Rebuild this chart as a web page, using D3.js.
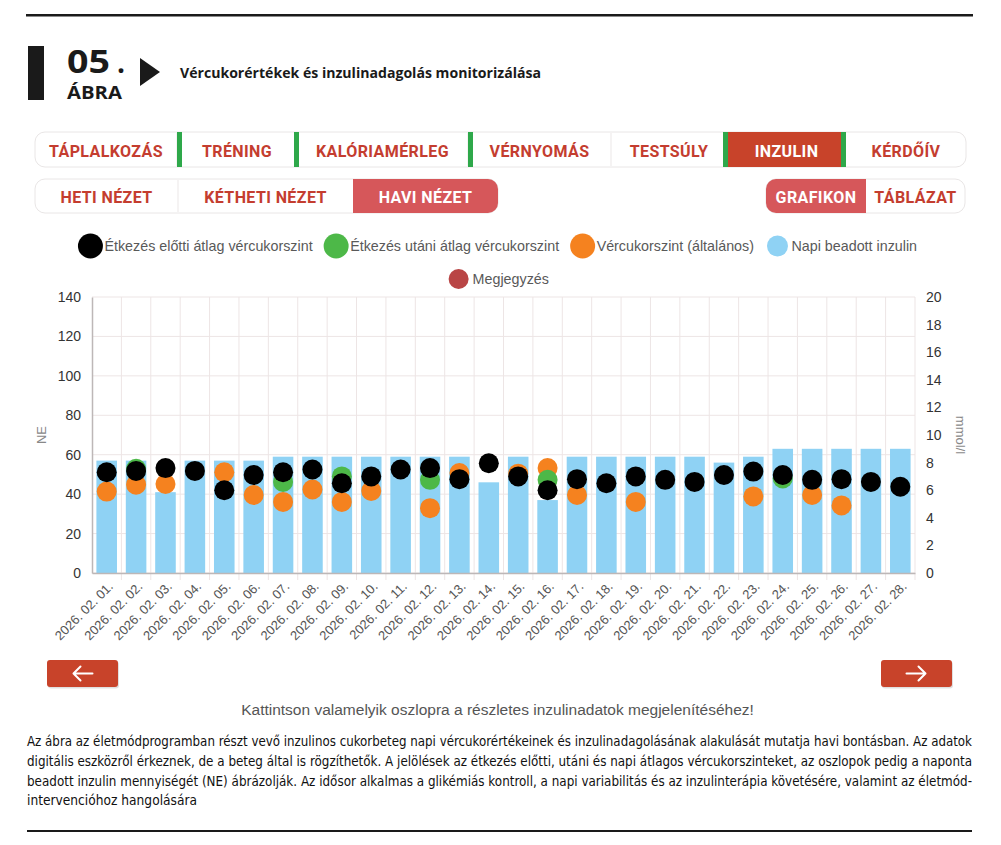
<!DOCTYPE html>
<html>
<head>
<meta charset="utf-8">
<script src="https://cdn.jsdelivr.net/npm/d3@7"></script>
<style>
  body { margin: 0; background: #fff; }
  svg { display: block; }
</style>
</head>
<body>
<div id="chart"></div>
<script>
// ---- data ----
var days = ["2026. 02. 01.", "2026. 02. 02.", "2026. 02. 03.", "2026. 02. 04.", "2026. 02. 05.",
    "2026. 02. 06.", "2026. 02. 07.", "2026. 02. 08.", "2026. 02. 09.", "2026. 02. 10.",
    "2026. 02. 11.", "2026. 02. 12.", "2026. 02. 13.", "2026. 02. 14.", "2026. 02. 15.",
    "2026. 02. 16.", "2026. 02. 17.", "2026. 02. 18.", "2026. 02. 19.", "2026. 02. 20.",
    "2026. 02. 21.", "2026. 02. 22.", "2026. 02. 23.", "2026. 02. 24.", "2026. 02. 25.",
    "2026. 02. 26.", "2026. 02. 27.", "2026. 02. 28."];

// daily insulin (NE), left axis
var insulin = [57, 57, 41, 57, 57, 57, 59, 59, 59, 59, 59, 59, 59, 46, 59,
    37, 59, 59, 59, 59, 59, 56, 59, 63, 63, 63, 63, 63];

// blood sugar (mmol/l), right axis
var preMeal = [7.3, 7.4, 7.6, 7.4, 6.0, 7.1, 7.3, 7.5, 6.5, 7.0, 7.5, 7.6, 6.8, 7.95, 7.0,
    6.0, 6.8, 6.5, 7.0, 6.75, 6.6, 7.1, 7.35, 7.1, 6.75, 6.8, 6.6, 6.25];
var postMeal = [null, 7.55, null, null, null, null, 6.6, null, 7.0, null, null, 6.75, null, null, null,
    6.75, null, null, null, null, null, null, null, 6.85, null, null, null, null];
var general = [5.9, 6.4, 6.45, null, 7.3, 5.65, 5.15, 6.05, 5.15, 5.95, null, 4.7, 7.25, null, 7.2,
    7.6, 5.65, null, 5.15, null, null, null, 5.55, null, 5.65, 4.9, null, null];

var leftTicks = [0, 20, 40, 60, 80, 100, 120, 140];
var rightTicks = [0, 2, 4, 6, 8, 10, 12, 14, 16, 18, 20];

var mainTabs = ["TÁPLALKOZÁS", "TRÉNING", "KALÓRIAMÉRLEG", "VÉRNYOMÁS", "TESTSÚLY", "INZULIN", "KÉRDŐÍV"];
var viewTabs = ["HETI NÉZET", "KÉTHETI NÉZET", "HAVI NÉZET"];
var modeTabs = ["GRAFIKON", "TÁBLÁZAT"];

var legendRow1 = [
    { label: "Étkezés előtti átlag vércukorszint", color: "#000000", r: 12.5 },
    { label: "Étkezés utáni átlag vércukorszint", color: "#4db848", r: 12.5 },
    { label: "Vércukorszint (általános)", color: "#f5821f", r: 12.5 },
    { label: "Napi beadott inzulin", color: "#8fd2f4", r: 10.5 }
];
var legendRow2 = [
    { label: "Megjegyzés", color: "#b94545", r: 10 }
];

var captionLines = [
    "Az ábra az életmódprogramban részt vevő inzulinos cukorbeteg napi vércukorértékeinek és inzulinadagolásának alakulását mutatja havi bontásban. Az adatok",
    "digitális eszközről érkeznek, de a beteg által is rögzíthetők. A jelölések az étkezés előtti, utáni és napi átlagos vércukorszinteket, az oszlopok pedig a naponta",
    "beadott inzulin mennyiségét (NE) ábrázolják. Az idősor alkalmas a glikémiás kontroll, a napi variabilitás és az inzulinterápia követésére, valamint az életmód-",
    "intervencióhoz hangolására"
];

// ---- page ----
var svg = d3.select("#chart").append("svg")
    .attr("width", 1001)
    .attr("height", 845);

var sans = "'Liberation Sans', Arial, sans-serif";
var tabFont = "Roboto, 'Liberation Sans', sans-serif";
var red = "#c43d2f";

// figure header
svg.append("rect").attr("x", 26).attr("y", 14).attr("width", 947).attr("height", 2.5).attr("fill", "#1a1a1a");
svg.append("rect").attr("x", 28).attr("y", 46).attr("width", 16).attr("height", 54).attr("fill", "#1a1a1a");
svg.append("text").attr("x", 67).attr("y", 73)
    .style("font-family", "'Open Sans', sans-serif").style("font-weight", 700).style("font-size", "33px")
    .attr("textLength", 43).attr("lengthAdjust", "spacingAndGlyphs")
    .attr("fill", "#1a1a1a").text("05");
svg.append("text").attr("x", 117).attr("y", 73)
    .style("font-family", "'Open Sans', sans-serif").style("font-weight", 700).style("font-size", "28px")
    .attr("fill", "#1a1a1a").text(".");
svg.append("text").attr("x", 67).attr("y", 98.5)
    .style("font-family", "'Open Sans', sans-serif").style("font-weight", 700).style("font-size", "17px")
    .attr("textLength", 55).attr("lengthAdjust", "spacingAndGlyphs")
    .attr("fill", "#1a1a1a").text("ÁBRA");
svg.append("path").attr("d", "M140,58 L160,72 L140,86 Z").attr("fill", "#1a1a1a");
svg.append("text").attr("x", 180).attr("y", 78)
    .style("font-family", "'Open Sans', sans-serif").style("font-weight", 700).style("font-size", "14px")
    .attr("textLength", 361).attr("lengthAdjust", "spacingAndGlyphs")
    .attr("fill", "#1a1a1a").text("Vércukorértékek és inzulinadagolás monitorizálása");

// ---- tab rows ----
function tabRow(x0, x1, y0, y1, edges, labels, active, activeColor, greens) {
    var g = svg.append("g");
    g.append("rect").attr("x", x0).attr("y", y0).attr("width", x1 - x0).attr("height", y1 - y0)
        .attr("rx", 10).attr("fill", "#fff").attr("stroke", "#e9e6e6").attr("stroke-width", 1);
    labels.forEach(function (lab, i) {
        var a = edges[i], b = edges[i + 1];
        if (i === active) {
            g.append("path")
                .attr("d", roundedSeg(a, b, y0, y1, i === 0 ? 10 : 0, i === labels.length - 1 ? 10 : 0))
                .attr("fill", activeColor);
        } else if (i > 0 && i - 1 !== active) {
            g.append("line").attr("x1", a).attr("x2", a).attr("y1", y0 + 1).attr("y2", y1 - 1)
                .attr("stroke", "#ebe7e7");
        }
        g.append("text").attr("x", (a + b) / 2).attr("y", y1 - 10.5)
            .attr("text-anchor", "middle")
            .style("font-family", tabFont).style("font-weight", 700).style("font-size", "16px")
            .style("letter-spacing", "0.4px")
            .attr("fill", i === active ? "#fff" : red).text(lab);
    });
    (greens || []).forEach(function (gx) {
        g.append("rect").attr("x", gx).attr("y", y0).attr("width", 5).attr("height", y1 - y0).attr("fill", "#2ea84a");
    });
}

function roundedSeg(a, b, y0, y1, rl, rr) {
    var p = d3.path();
    p.moveTo(a + rl, y0);
    p.lineTo(b - rr, y0);
    if (rr) p.arcTo(b, y0, b, y0 + rr, rr);
    p.lineTo(b, y1 - rr);
    if (rr) p.arcTo(b, y1, b - rr, y1, rr);
    p.lineTo(a + rl, y1);
    if (rl) p.arcTo(a, y1, a, y1 - rl, rl);
    p.lineTo(a, y0 + rl);
    if (rl) p.arcTo(a, y0, a + rl, y0, rl);
    p.closePath();
    return p.toString();
}

tabRow(35, 966, 132, 167, [35, 177, 297, 468, 611, 727, 846, 966], mainTabs, 5, "#c8432a",
    [177, 294, 468, 723, 841]);
tabRow(35, 498, 179, 213, [35, 178, 353, 498], viewTabs, 2, "#d6575a");
tabRow(766, 965, 179, 213, [766, 866, 965], modeTabs, 0, "#d6575a");

// ---- legend ----
function legendRow(items, cy) {
    var g = svg.append("g");
    var box = 25, pad = 1.5, gap = 11;
    var nodes = items.map(function (d) {
        var t = g.append("text").attr("y", cy + 5)
            .style("font-family", sans).style("font-size", "14.3px").attr("fill", "#595959").text(d.label);
        return { d: d, t: t, w: t.node().getComputedTextLength() };
    });
    var total = d3.sum(nodes, function (n) { return n.w + box + pad; }) + gap * (nodes.length - 1);
    var x = 497.5 - total / 2;
    nodes.forEach(function (n) {
        g.append("circle").attr("cx", x + box / 2).attr("cy", cy).attr("r", n.d.r).attr("fill", n.d.color);
        n.t.attr("x", x + box + pad);
        x += box + pad + n.w + gap;
    });
}
legendRow(legendRow1, 246);
legendRow(legendRow2, 279);

// ---- chart ----
var plot = { left: 92, right: 915, top: 297, bottom: 573 };

var x = d3.scaleBand().domain(days).range([plot.left, plot.right])
    .paddingInner(0.3).paddingOuter(0.15);
var yNE = d3.scaleLinear().domain([0, 140]).range([plot.bottom, plot.top]);
var yMmol = d3.scaleLinear().domain([0, 20]).range([plot.bottom, plot.top]);
var step = x.step();
var bounds = d3.range(days.length + 1).map(function (i) { return plot.left + i * step; });

var chart = svg.append("g");
var gridColor = "#ede5e5";

// grid
chart.append("g").selectAll("line").data(leftTicks).enter().append("line")
    .attr("x1", plot.left).attr("x2", plot.right)
    .attr("y1", function (d) { return yNE(d); }).attr("y2", function (d) { return yNE(d); })
    .attr("stroke", gridColor);
chart.append("g").selectAll("line").data(bounds).enter().append("line")
    .attr("x1", function (d) { return d; }).attr("x2", function (d) { return d; })
    .attr("y1", plot.top).attr("y2", plot.bottom + 7)
    .attr("stroke", function (d, i) { return i === 0 ? "none" : gridColor; });

// bars
chart.append("g").selectAll("rect").data(insulin).enter().append("rect")
    .attr("x", function (d, i) { return x(days[i]); })
    .attr("width", x.bandwidth())
    .attr("y", function (d) { return yNE(d); })
    .attr("height", function (d) { return yNE(0) - yNE(d); })
    .attr("fill", "#8fd2f4");

// points: general first, black on top
function dots(values, color) {
    chart.append("g").selectAll("circle")
        .data(values.map(function (v, i) { return { v: v, day: days[i] }; }).filter(function (d) { return d.v !== null; }))
        .enter().append("circle")
        .attr("cx", function (d) { return x(d.day) + x.bandwidth() / 2; })
        .attr("cy", function (d) { return yMmol(d.v); })
        .attr("r", 10)
        .attr("fill", color);
}
dots(general, "#f5821f");
dots(postMeal, "#4db848");
dots(preMeal, "#000000");

// axes
var leftAxis = d3.axisLeft(yNE).tickValues(leftTicks).tickSize(0).tickPadding(11);
var rightAxis = d3.axisRight(yMmol).tickValues(rightTicks).tickSize(0).tickPadding(11);
var bottomAxis = d3.axisBottom(x).tickSize(0).tickPadding(0);

var gl = chart.append("g").attr("transform", "translate(" + plot.left + ",0)").call(leftAxis);
gl.select(".domain").attr("stroke", "#bdb7b7").attr("stroke-width", 1.5);
var gr = chart.append("g").attr("transform", "translate(" + plot.right + ",0)").call(rightAxis);
gr.select(".domain").remove();
var gb = chart.append("g").attr("transform", "translate(0," + plot.bottom + ")").call(bottomAxis);
gb.select(".domain").attr("stroke", "#bdb7b7").attr("stroke-width", 1.5);

[gl, gr].forEach(function (g) {
    g.selectAll("text").style("font-family", sans).style("font-size", "14px").attr("fill", "#333");
});
gb.selectAll("text")
    .style("font-family", sans).style("font-size", "13px").attr("fill", "#555")
    .attr("text-anchor", "end")
    .attr("dy", "0.35em")
    .attr("transform", "translate(4,11) rotate(-45)");

// axis titles
chart.append("text").attr("transform", "translate(46," + (plot.top + plot.bottom) / 2 + ") rotate(-90)")
    .attr("text-anchor", "middle")
    .style("font-family", sans).style("font-size", "13px").attr("fill", "#888").text("NE");
chart.append("text").attr("transform", "translate(956," + (plot.top + plot.bottom) / 2 + ") rotate(90)")
    .attr("text-anchor", "middle")
    .style("font-family", sans).style("font-size", "13px").attr("fill", "#888").text("mmol/l");

// ---- navigation buttons ----
function navButton(x0, dir) {
    var g = svg.append("g");
    g.append("rect").attr("x", x0 + 1).attr("y", 661.5).attr("width", 71).attr("height", 27).attr("rx", 3)
        .attr("fill", "#000").attr("opacity", 0.12);
    g.append("rect").attr("x", x0).attr("y", 660).attr("width", 71).attr("height", 27).attr("rx", 3)
        .attr("fill", "#c8432a");
    var cx = x0 + 35.5, cy = 673.5;
    var d = dir < 0
        ? "M" + (cx + 10) + "," + cy + " H" + (cx - 9) + " M" + (cx - 2) + "," + (cy - 7) + " L" + (cx - 9) + "," + cy + " L" + (cx - 2) + "," + (cy + 7)
        : "M" + (cx - 10) + "," + cy + " H" + (cx + 9) + " M" + (cx + 2) + "," + (cy - 7) + " L" + (cx + 9) + "," + cy + " L" + (cx + 2) + "," + (cy + 7);
    g.append("path").attr("d", d).attr("fill", "none").attr("stroke", "#fff").attr("stroke-width", 2)
        .attr("stroke-linecap", "round").attr("stroke-linejoin", "round");
}
navButton(47, -1);
navButton(881, 1);

svg.append("text").attr("x", 497.5).attr("y", 715).attr("text-anchor", "middle")
    .style("font-family", sans).style("font-size", "15.5px").attr("fill", "#555")
    .text("Kattintson valamelyik oszlopra a részletes inzulinadatok megjelenítéséhez!");

// ---- caption ----
var captionWidths = [945, 945, 945, 170];
svg.append("g").selectAll("text").data(captionLines).enter().append("text")
    .attr("x", 27)
    .attr("y", function (d, i) { return 746 + i * 19.8; })
    .attr("textLength", function (d, i) { return captionWidths[i]; })
    .attr("lengthAdjust", "spacingAndGlyphs")
    .style("font-family", "'Liberation Sans Narrow', 'DejaVu Sans Condensed', sans-serif")
    .style("font-size", "13.5px")
    .attr("fill", "#111")
    .text(function (d) { return d; });

svg.append("rect").attr("x", 27).attr("y", 830).attr("width", 945).attr("height", 2).attr("fill", "#1a1a1a");
</script>
</body>
</html>
